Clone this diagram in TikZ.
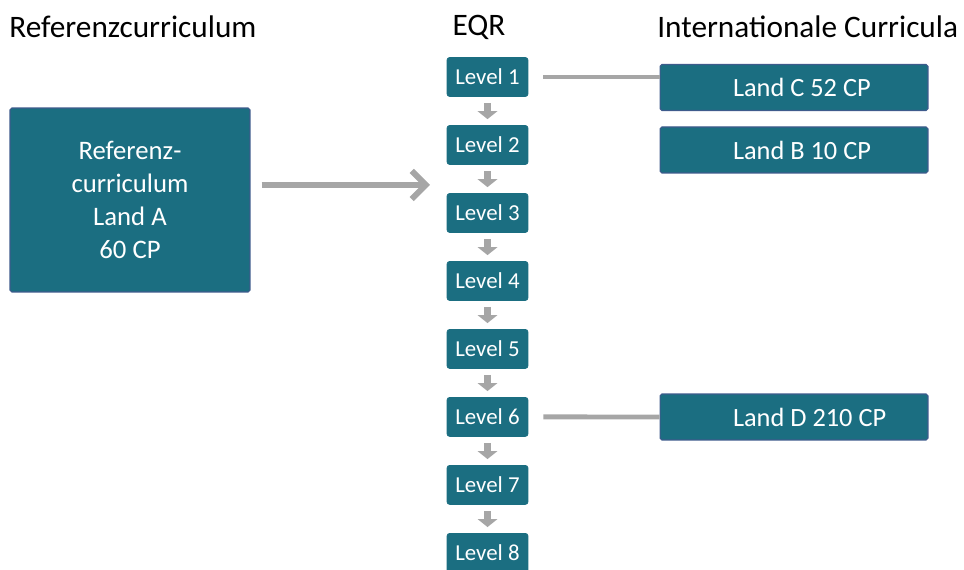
\documentclass[tikz,border=0pt]{standalone}
\usepackage{fontspec}
\setmainfont{Carlito}
\usetikzlibrary{positioning, arrows.meta}
\definecolor{boxteal}{HTML}{1B6E81}
\definecolor{boxedge}{HTML}{3E5B8C}
\definecolor{arrowgray}{HTML}{A6A6A6}

\begin{document}
\begin{tikzpicture}[x=0.02cm, y=-0.02cm, node distance=1.36cm, on grid,
    heading/.style={inner sep=0pt, font=\fontsize{17.8}{21}\selectfont},
    level/.style={draw=boxteal, fill=boxteal, text=white, rounded corners=1.5pt,
        minimum width=1.62cm, minimum height=0.78cm, inner sep=0pt,
        font=\fontsize{13}{15}\selectfont},
    land/.style={draw=boxedge, line width=0.6pt, fill=boxteal, text=white,
        rounded corners=1pt, minimum width=5.36cm, minimum height=0.92cm,
        inner sep=0pt, font=\fontsize{15}{18}\selectfont},
    refbox/.style={draw=boxedge, line width=0.6pt, fill=boxteal, text=white,
        rounded corners=1pt, minimum width=4.8cm, minimum height=3.68cm,
        align=center, inner sep=0pt, font=\fontsize{15.2}{18.8}\selectfont},
    levelarrow/.style={color=arrowgray, line width=4.5pt,
        -{Triangle[width=11pt, length=4.5pt]}, shorten <=0.12cm, shorten >=0.12cm},
    bigarrow/.style={color=arrowgray, line width=3.4pt,
        -{Straight Barb[length=8pt, width=16pt]}},
    linkline/.style={color=arrowgray, line width=2.8pt, shorten <=0.3cm}]

    \useasboundingbox (0,0) rectangle (964,570);
    \clip (0,0) rectangle (964,570);

    % headings
    \node[heading, anchor=west] (refhead) at (9,27) {Referenzcurriculum};
    \node[heading] (eqrhead) at (479,27) {EQR};
    \node[heading, anchor=west] (inthead) at (657,27) {Internationale Curricula};

    % reference curriculum
    \node[refbox] (refA) at (130,200) {Referenz-\\curriculum\\Land A\\60 CP};

    % EQR levels
    \node[level] (l1) at (487.5,77) {Level 1};
    \node[level] (l2) [below=of l1] {Level 2};
    \node[level] (l3) [below=of l2] {Level 3};
    \node[level] (l4) [below=of l3] {Level 4};
    \node[level] (l5) [below=of l4] {Level 5};
    \node[level] (l6) [below=of l5] {Level 6};
    \node[level] (l7) [below=of l6] {Level 7};
    \node[level] (l8) [below=of l7] {Level 8};

    \path[levelarrow]
        (l1) edge (l2)
        (l2) edge (l3)
        (l3) edge (l4)
        (l4) edge (l5)
        (l5) edge (l6)
        (l6) edge (l7)
        (l7) edge (l8);

    % international curricula
    \node[land] (landC) at (794,87.5) {\makebox[5.36cm][l]{\hspace{1.46cm}Land C 52 CP}};
    \node[land] (landB) [below=1.25cm of landC] {\makebox[5.36cm][l]{\hspace{1.46cm}Land B 10 CP}};
    \node[land] (landD) at (794,417) {\makebox[5.36cm][l]{\hspace{1.46cm}Land D 210 CP}};

    \coordinate (bigtip) at (430,185);
    \draw[bigarrow, shorten <=0.22cm] (refA.east |- bigtip) -- (bigtip);

    \draw[linkline] (l1.east) -- (l1.east -| landC.west);
    \draw[linkline] (l6.east) -- (landD.west);
\end{tikzpicture}
\end{document}
